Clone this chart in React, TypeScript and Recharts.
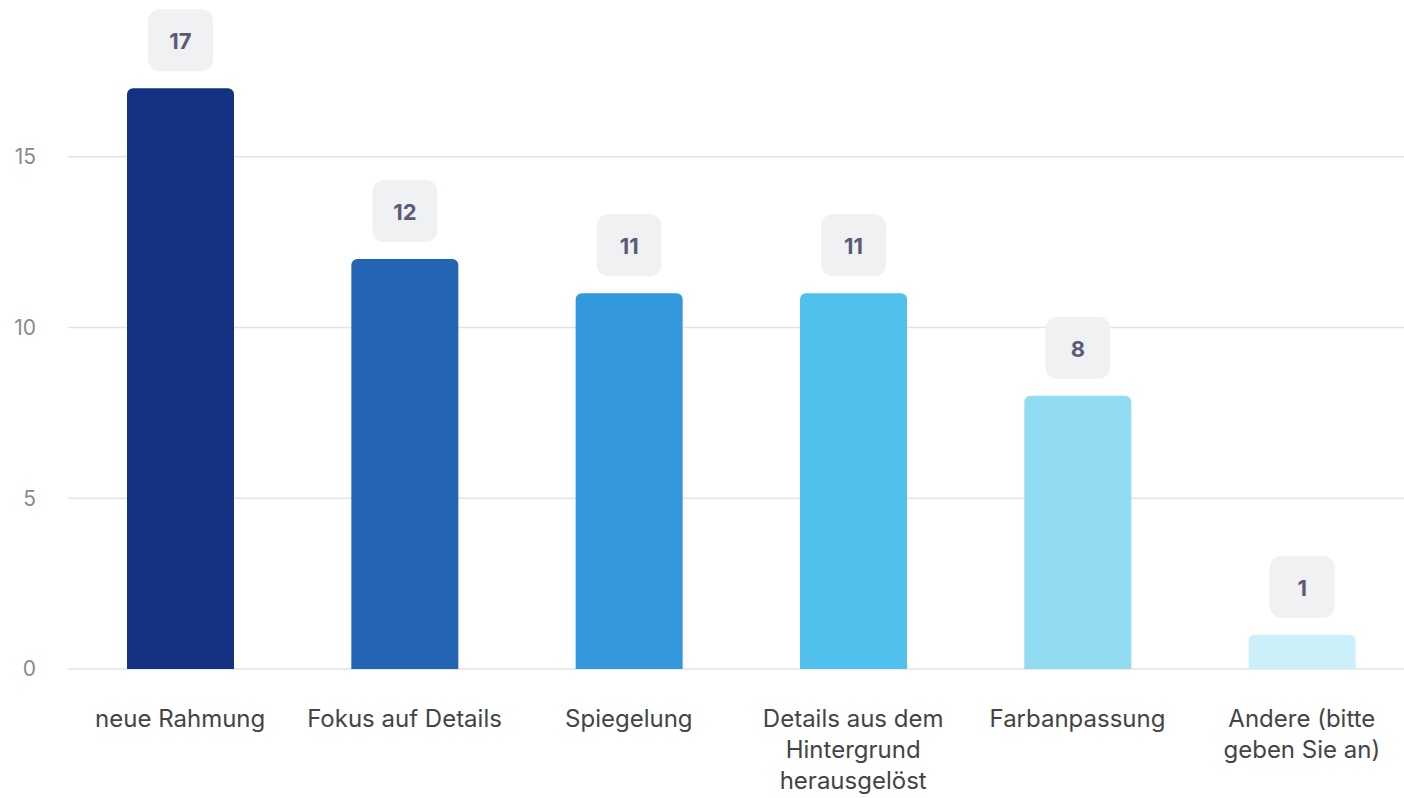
import { BarChart, Bar, XAxis, YAxis, CartesianGrid, Cell, LabelList } from 'recharts';

const categories = [
  'neue Rahmung',
  'Fokus auf Details',
  'Spiegelung',
  'Details aus dem Hintergrund herausgelöst',
  'Farbanpassung',
  'Andere (bitte geben Sie an)',
];
const tickLines = [
  ['neue Rahmung'],
  ['Fokus auf Details'],
  ['Spiegelung'],
  ['Details aus dem', 'Hintergrund', 'herausgelöst'],
  ['Farbanpassung'],
  ['Andere (bitte', 'geben Sie an)'],
];
const counts = [17, 12, 11, 11, 8, 1];
const colors = ['#133282', '#2364b4', '#3498dc', '#50c0ec', '#92dcf2', '#ccf0f9'];
const yTicks = [0, 5, 10, 15];

const data = categories.map((name, i) => ({ name, value: counts[i] }));

const FONT = 'Inter, "Noto Sans", sans-serif';

function XTick({ x, y, index }: any) {
  const lines = tickLines[index] || [];
  return (
    <text x={x} y={y + 58} textAnchor="middle" fill="#444" fontSize={24} fontFamily={FONT}>
      {lines.map((l, i) => (
        <tspan key={i} x={x} dy={i === 0 ? 0 : 31}>
          {l}
        </tspan>
      ))}
    </text>
  );
}

function ValueBadge({ x, y, width, value }: any) {
  const cx = x + width / 2;
  const h = 62;
  const w = 65;
  const top = y - 17 - h;
  return (
    <g>
      <rect x={cx - w / 2} y={top} width={w} height={h} rx={12} fill="#f0f1f2" />
      <text
        x={cx}
        y={top + h / 2 + 1}
        textAnchor="middle"
        dominantBaseline="central"
        fontSize={22}
        fontWeight={700}
        fontFamily={FONT}
        fill="#5b5b78"
      >
        {value}
      </text>
    </g>
  );
}

export default function App() {
  return (
    <div style={{ position: 'absolute', left: 0, top: 0, width: 1404, height: 798, overflow: 'hidden', background: '#fff' }}>
      <BarChart width={1420} height={798} data={data} margin={{ top: 20, right: 6, bottom: 0, left: 0 }}>
        <CartesianGrid vertical={false} stroke="#e3e3e3" strokeWidth={1.5} horizontalValues={yTicks} />
        <XAxis
          dataKey="name"
          axisLine={false}
          tickLine={false}
          tickSize={0}
          tickMargin={0}
          height={129}
          interval={0}
          tick={<XTick />}
        />
        <YAxis
          domain={[0, 19]}
          ticks={yTicks}
          axisLine={false}
          tickLine={false}
          tickSize={0}
          tickMargin={32}
          width={68}
          tick={{ fill: '#8a8a8a', fontSize: 21, fontFamily: FONT }}
        />
        <Bar dataKey="value" barSize={107} radius={[6, 6, 0, 0]} isAnimationActive={false}>
          {data.map((d, i) => (
            <Cell key={d.name} fill={colors[i]} />
          ))}
          <LabelList dataKey="value" content={<ValueBadge />} />
        </Bar>
      </BarChart>
    </div>
  );
}
